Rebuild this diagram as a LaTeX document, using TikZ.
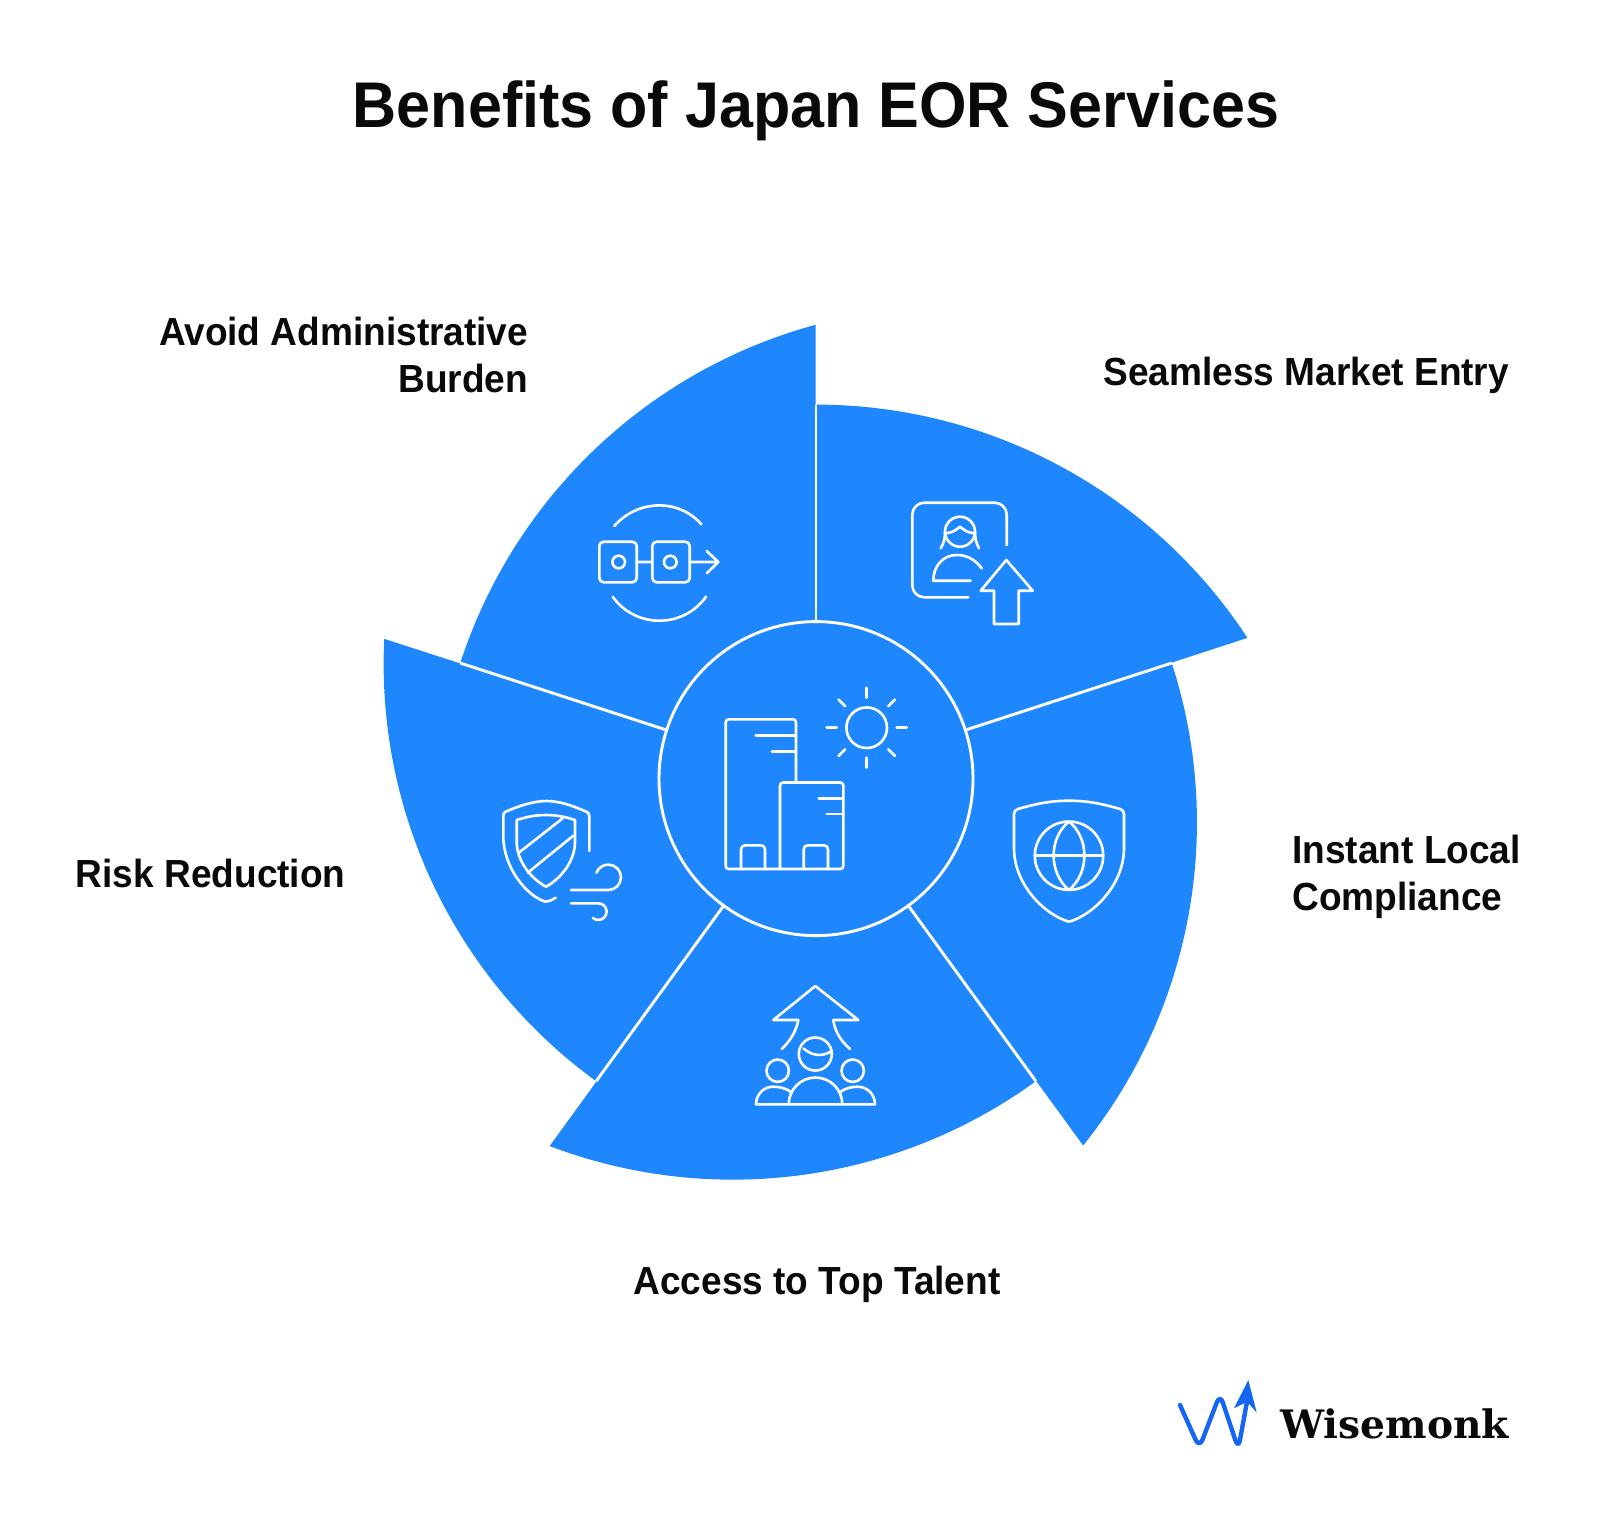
\documentclass[tikz,border=0pt]{standalone}
\usepackage{fontspec}
\usetikzlibrary{calc}
\setmainfont{Liberation Sans}[FakeStretch=0.945]
\newfontfamily\logofont{DejaVu Serif}
\definecolor{petal}{HTML}{1E87FE}
\definecolor{logoblue}{HTML}{1565F5}
\definecolor{ink}{HTML}{0A0A0A}
\tikzset{
  petalshape/.style={fill=petal,draw=none},
  sepline/.style={draw=white,line width=1.45pt},
  icon/.style={draw=white,line width=1.3pt,line cap=round,line join=round},
  titletext/.style={inner sep=0,text=ink,font=\fontsize{32.3}{36}\selectfont\bfseries},
  labeltext/.style={inner sep=0,text=ink,font=\fontsize{19.6}{23.5}\selectfont\bfseries},
}
\begin{document}
\begin{tikzpicture}[x=0.5pt,y=-0.5pt]
\useasboundingbox (0,0) rectangle (1600,1522);
\fill[white] (0,0) rectangle (1600,1522);
% petals
\foreach \i in {0,...,4}{
  \begin{scope}[shift={(816,778.6)},rotate=72*\i]
    \coordinate (a\i) at (0,-374);
    \path[petalshape] (0,0) -- (0,-374) arc[start angle=270,end angle=326.8,radius=515.6] -- cycle;
  \end{scope}
}
\node[circle,inner sep=0,minimum size=157pt,fill=petal,draw=none] (hubbase) at (816,778.6) {};
\foreach \i in {0,...,4}{
  \draw[sepline] (hubbase) -- (a\i);
}
\node[circle,inner sep=0,minimum size=157pt,sepline,fill=petal] (hub) at (816,778.6) {};
% hub icon
\draw[icon,rounded corners=1.5pt] (796,782) -- (796,719.3) -- (725.7,719.3) -- (725.7,869) -- (843.3,869) -- (843.3,782.5) -- (780,782.5) -- (780,869);
\draw[icon] (755.7,735.7) -- (796,735.7) (772,751.3) -- (796,751.3);
\draw[icon] (818.7,798.3) -- (843.3,798.3) (826.7,814) -- (843.3,814);
\draw[icon,rounded corners=2pt] (741,869) -- (741,845.3) -- (765,845.3) -- (765,869);
\draw[icon,rounded corners=2pt] (803.7,869) -- (803.7,845.3) -- (828,845.3) -- (828,869);
\draw[icon] (866.7,727.7) circle[radius=20.3];
\foreach \a in {0,90,180,270}{
  \draw[icon] ($(866.7,727.7)+(\a:30)$) -- ($(866.7,727.7)+(\a:40)$);
}
\foreach \a in {45,135,225,315}{
  \draw[icon] ($(866.7,727.7)+(\a:30.5)$) -- ($(866.7,727.7)+(\a:40)$);
}
% avoid icon
\draw[icon,rounded corners=2.2pt] (599.3,541.7) rectangle (636.7,582.3);
\draw[icon,rounded corners=2.2pt] (652.3,541.7) rectangle (689.7,582.3);
\draw[icon] (618.7,562) circle[radius=6.3] (670.3,562) circle[radius=6.3];
\draw[icon] (636.7,562) -- (652.3,562) (689.7,562) -- (718.3,562) (706.7,551) -- (718.3,562) -- (706.7,573.3);
\draw[icon] (614.3,526) .. controls (637.1,499.7) and (678.5,498) .. (701.3,524.3);
\draw[icon] (612.7,596.7) .. controls (635.5,628.7) and (683.2,628.7) .. (706,596.7);
% seamless icon
\draw[icon,rounded corners=6pt] (1006.7,545) -- (1006.7,502.7) -- (912.3,502.7) -- (912.3,597.3) -- (968.3,597.3);
\draw[icon] (960,531.7) circle[radius=15];
\draw[icon] (940.7,548.3) .. controls (944,543) and (945,538) .. (945,531.7);
\draw[icon] (979,548.3) .. controls (976,543) and (975,538) .. (975,531.7);
\draw[icon] (945,533.3) .. controls (952,533) and (956,530) .. (960,526.7) .. controls (964,530) and (968,533) .. (975,533.3);
\draw[icon] (981.7,568.3) .. controls (975,559) and (966,555) .. (956.7,555) .. controls (943,555) and (933.3,566) .. (933.3,580.7) -- (970.7,580.7);
\draw[icon] (1006.3,560) -- (1032.7,590.7) -- (1018.7,590.7) -- (1018.7,624) -- (994,624) -- (994,590.7) -- (980.7,590.7) -- cycle;
% compliance icon
\draw[icon] (1069,800.7) .. controls (1050,800.7) and (1035,804) .. (1018,809) .. controls (1015.5,810) and (1014,811) .. (1014,814) -- (1014,848) .. controls (1014,885) and (1045,915) .. (1069,921.7) .. controls (1093,915) and (1124,885) .. (1124,848) -- (1124,814) .. controls (1124,811) and (1122.5,810) .. (1120,809) .. controls (1103,804) and (1088,800.7) .. cycle;
\draw[icon] (1069,855.7) circle[radius=34.2];
\draw[icon] (1034.8,855.7) -- (1103.2,855.7);
\draw[icon] (1069,821.5) .. controls (1048.5,838) and (1048.5,873) .. (1069,890) .. controls (1089.5,873) and (1089.5,838) .. cycle;
% talent icon
\draw[icon] (798.3,1020) -- (773.3,1020) -- (815.3,986) -- (858.3,1020) -- (833.3,1020);
\draw[icon] (798.3,1020) .. controls (796,1032) and (790,1041) .. (781.7,1049);
\draw[icon] (833.3,1020) .. controls (835,1032) and (841,1041) .. (850,1049);
\draw[icon] (815.3,1054) circle[radius=16.5];
\draw[icon] (803.5,1048.5) .. controls (812,1056) and (822,1056.5) .. (830,1052);
\draw[icon] (777.7,1070.7) circle[radius=11.2] (852.7,1070.7) circle[radius=11.2];
\draw[icon] (788.7,1104.3) arc[start angle=180,end angle=360,radius=26.8] -- cycle;
\draw[icon] (790.7,1091.7) .. controls (786,1088.5) and (780,1086.7) .. (773.3,1086.7) .. controls (763,1086.7) and (756,1095) .. (756,1104.3) -- (788.7,1104.3);
\draw[icon] (840.7,1091.7) .. controls (845,1088.5) and (851,1086.7) .. (857.3,1086.7) .. controls (868,1086.7) and (875,1095) .. (875,1104.3) -- (842.3,1104.3);
% risk icon
\draw[icon] (589.3,851) -- (589.3,816) .. controls (589.3,813.5) and (588,812) .. (586,811.5) .. controls (573,806) and (560,801) .. (546.7,801) .. controls (533,801) and (519,806) .. (506,811.5) .. controls (504,812) and (503.3,813.5) .. (503.3,816) -- (503.3,836) .. controls (503.3,868) and (527,896) .. (545,901.5) .. controls (549,901.5) and (552,900) .. (555.7,897.7);
\draw[icon] (546,815) .. controls (535,815) and (526,817) .. (516.7,820) -- (516.7,842) .. controls (516.7,860) and (530,878) .. (546,886.7) .. controls (562,878) and (575,860) .. (575,842) -- (575,820) .. controls (566,817) and (557,815) .. cycle;
\draw[icon] (519.3,852.3) -- (562.7,818.3) (527.7,872.7) -- (573.3,835.7);
\draw[icon] (571,890) -- (608.3,890) arc[start angle=90,end angle=-159,radius=12.7];
\draw[icon] (571,903.3) -- (598.3,903.3) arc[start angle=-90,end angle=131,radius=8.3];
% texts
\node[titletext,anchor=base] (title) at (816,127) {Benefits of Japan EOR Services};
\node[labeltext,anchor=base east,align=right] (avoid) at (528.6,392.5) {Avoid Administrative\\Burden};
\node[labeltext,anchor=base west] (seamless) at (1103,385) {Seamless Market Entry};
\node[labeltext,anchor=base west,align=left] (instant) at (1292,910) {Instant Local\\Compliance};
\node[labeltext,anchor=base west] (risk) at (75.5,887) {Risk Reduction};
\node[labeltext,anchor=base] (access) at (817,1294) {Access to Top Talent};
% logo
\node[inner sep=0,anchor=base west,text=ink,font=\logofont\fontsize{19.6}{24}\selectfont\bfseries] (brand) at (1280,1438.3) {Wisemonk};
\draw[logoblue,line width=2.2pt,line cap=round,line join=round,rounded corners=4.5pt] (1180,1405) -- (1199.3,1448) -- (1220,1394) -- (1238.3,1449) -- (1247.3,1400);
\fill[logoblue] (1248.3,1380) -- (1256.7,1412.7) -- (1247.3,1401.7) -- (1234,1408.3) -- cycle;
\end{tikzpicture}
\end{document}
